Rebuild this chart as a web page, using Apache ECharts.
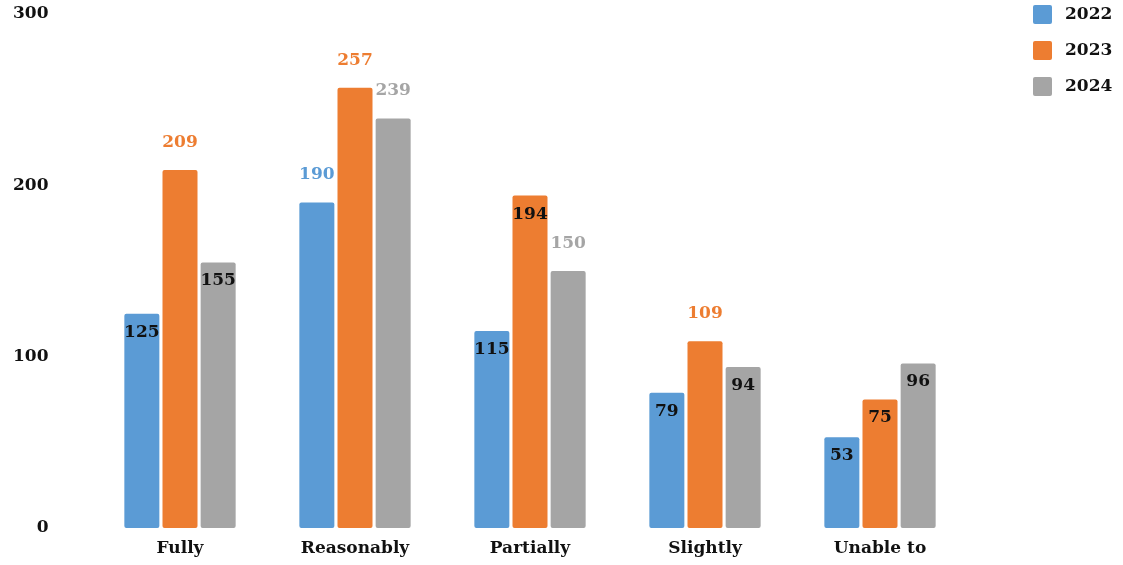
<!DOCTYPE html>
<html><head><meta charset="utf-8">
<script src="https://cdn.jsdelivr.net/npm/echarts@6/dist/echarts.min.js"></script>
<style>html,body{margin:0;padding:0;background:#fff}#c{width:1123px;height:565px}</style>
</head><body><div id="c"></div>
<script>
const categories = ['Fully', 'Reasonably', 'Partially', 'Slightly', 'Unable to'];
const seriesNames = ['2022', '2023', '2024'];
const values2022 = [125, 190, 115, 79, 53];
const values2023 = [209, 257, 194, 109, 75];
const values2024 = [155, 239, 150, 94, 96];
// whether each value label sits inside the bar top (true) or above it (false)
const inside2022 = [true, false, true, true, true];
const inside2023 = [false, false, true, false, true];
const inside2024 = [true, false, false, true, true];
const yTicks = [0, 100, 200, 300];

const colors = ['#5B9BD5', '#ED7D31', '#A5A5A5'];
const FONT = '"DejaVu Serif", serif';
const allValues = [values2022, values2023, values2024];
const allInside = [inside2022, inside2023, inside2024];

const series = seriesNames.map((name, si) => ({
  name,
  type: 'bar',
  barWidth: 35,
  barGap: '9%',
  itemStyle: { color: colors[si], borderRadius: 2 },
  data: allValues[si].map((v, i) => ({
    value: v,
    label: allInside[si][i]
      ? { show: true, position: 'insideTop', distance: 10, color: '#111' }
      : { show: true, position: 'top', distance: 19, color: colors[si] }
  })),
  label: { show: true, fontFamily: FONT, fontWeight: 'bold', fontSize: 17 }
}));

const chart = echarts.init(document.getElementById('c'), null, { renderer: 'canvas' });
chart.setOption({
  animation: false,
  color: colors,
  grid: { left: 92.5, right: 155.5, top: 14, bottom: 37, containLabel: false },
  legend: {
    orient: 'vertical',
    left: 1028, top: 0,
    itemWidth: 19, itemHeight: 19, itemGap: 17,
    icon: 'path://M2,0 L17,0 Q19,0 19,2 L19,17 Q19,19 17,19 L2,19 Q0,19 0,17 L0,2 Q0,0 2,0 Z',
    textStyle: { fontFamily: FONT, fontWeight: 'bold', fontSize: 17, color: '#111', padding: [0, 0, 0, 8] },
    data: seriesNames
  },
  xAxis: {
    type: 'category',
    data: categories,
    axisLine: { show: false },
    axisTick: { show: false },
    axisLabel: { fontFamily: FONT, fontWeight: 'bold', fontSize: 17, color: '#111', margin: 12 }
  },
  yAxis: {
    type: 'value',
    min: yTicks[0], max: yTicks[yTicks.length - 1], interval: yTicks[1] - yTicks[0],
    splitLine: { show: false },
    axisLine: { show: false },
    axisTick: { show: false },
    axisLabel: { fontFamily: FONT, fontWeight: 'bold', fontSize: 17, color: '#111', margin: 44 }
  },
  series
});
</script></body></html>
